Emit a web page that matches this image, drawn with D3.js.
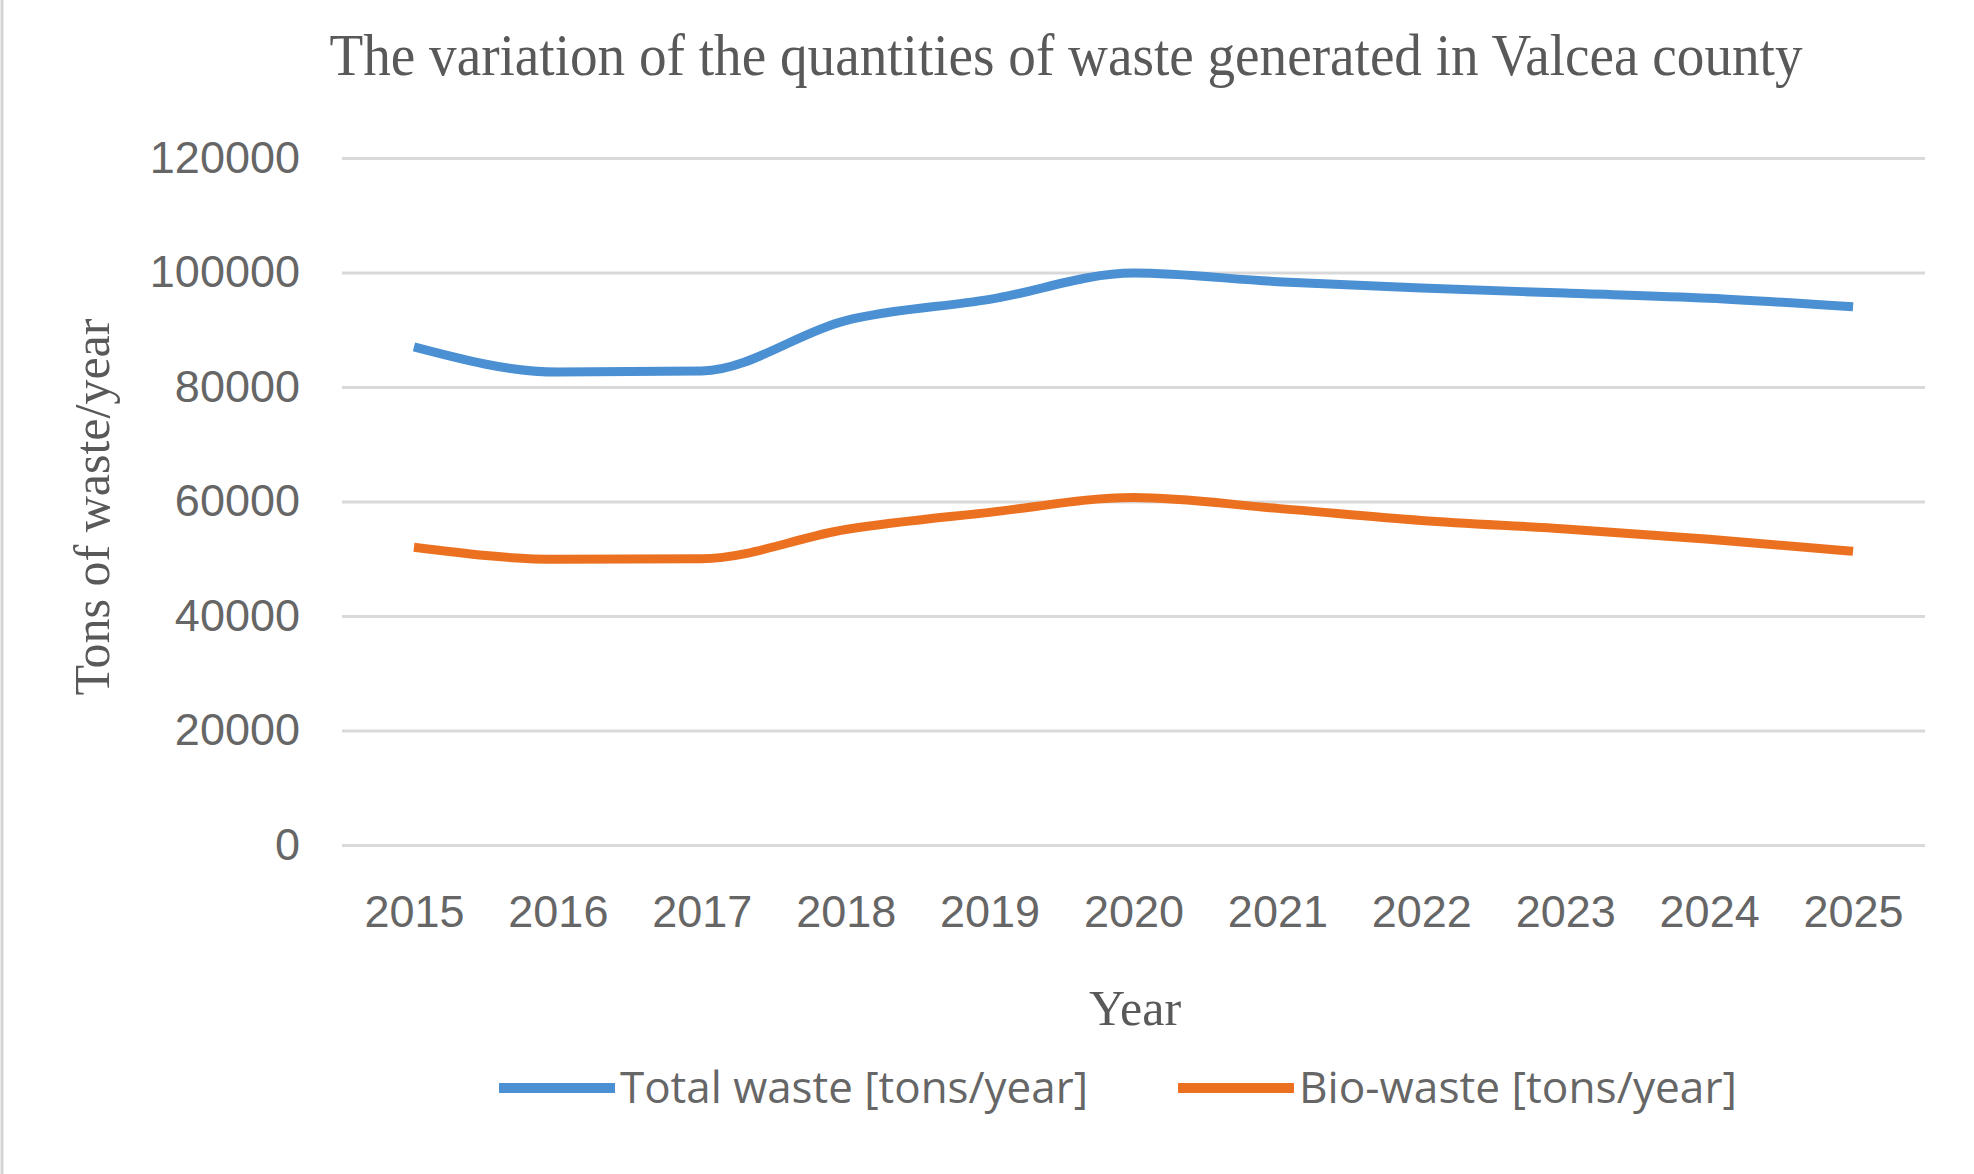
<!DOCTYPE html>
<html>
<head>
<meta charset="utf-8">
<script src="https://cdn.jsdelivr.net/npm/d3@7"></script>
<style>
  body { margin: 0; background: #fff; }
  svg { display: block; }
</style>
</head>
<body>
<svg id="chart" width="1974" height="1174"></svg>
<script>
// values
let years = ["2015", "2016", "2017", "2018", "2019", "2020", "2021", "2022", "2023", "2024", "2025"];
let totalWaste = [87000, 82600, 82800, 91600, 95300, 99900, 98400, 97300, 96400, 95500, 94000];
let bioWaste = [52000, 49900, 50000, 55100, 58100, 60700, 58800, 56700, 55200, 53400, 51300];
let yTicks = [0, 20000, 40000, 60000, 80000, 100000, 120000];
let seriesNames = ["Total waste [tons/year]", "Bio-waste [tons/year]"];
let seriesColors = ["#4a90d2", "#eb7120"];

function build() {
  const svg = d3.select("#chart");
  let margin = ({ top: 158, right: 49, bottom: 329, left: 342 });
  let width = +svg.attr("width");
  let height = +svg.attr("height");

  svg.append("rect").attr("width", width).attr("height", height).attr("fill", "#fff");
  // thin frame on the left edge
  svg.append("line")
    .attr("x1", 2).attr("x2", 2).attr("y1", 0).attr("y2", height)
    .attr("stroke", "#d4d4d4").attr("stroke-width", 3);

  let x = d3.scalePoint()
    .domain(years)
    .range([margin.left, width - margin.right])
    .padding(0.5);

  let y = d3.scaleLinear()
    .domain([0, 120000])
    .range([height - margin.bottom, margin.top]);

  let yAxis = g => g
    .attr("transform", `translate(${margin.left},0)`)
    .call(d3.axisLeft(y).tickValues(yTicks).tickFormat(d3.format("d"))
      .tickSize(-(width - margin.left - margin.right)).tickPadding(42))
    .call(g => g.select(".domain").remove())
    .call(g => g.selectAll(".tick line").attr("stroke", "#d9d9d9").attr("stroke-width", 3))
    .call(g => g.selectAll(".tick text")
      .attr("fill", "#666")
      .attr("font-family", "'Liberation Sans', Arial, sans-serif")
      .attr("font-size", 45));

  let xAxis = g => g
    .attr("transform", `translate(0,${height - margin.bottom})`)
    .call(d3.axisBottom(x).tickSize(0).tickPadding(50))
    .call(g => g.select(".domain").remove())
    .call(g => g.selectAll(".tick text")
      .attr("fill", "#666")
      .attr("font-family", "'Liberation Sans', Arial, sans-serif")
      .attr("font-size", 45));

  svg.append("g").call(yAxis);
  svg.append("g").call(xAxis);

  let line = d3.line()
    .curve(d3.curveMonotoneX)
    .x((d, i) => x(years[i]))
    .y(d => y(d));

  [totalWaste, bioWaste].forEach((s, i) => {
    svg.append("path")
      .datum(s)
      .attr("fill", "none")
      .attr("stroke", seriesColors[i])
      .attr("stroke-width", 9)
      .attr("stroke-linejoin", "round")
      .attr("d", line);
  });

  // title
  svg.append("text")
    .attr("x", 1066).attr("y", 75)
    .attr("text-anchor", "middle")
    .attr("font-family", "'Liberation Serif', 'Times New Roman', serif")
    .attr("font-size", 60)
    .attr("fill", "#595959")
    .attr("textLength", 1473)
    .attr("lengthAdjust", "spacingAndGlyphs")
    .text("The variation of the quantities of waste generated in Valcea county");

  // axis titles
  svg.append("text")
    .attr("transform", "translate(109,507) rotate(-90)")
    .attr("text-anchor", "middle")
    .attr("font-family", "'Liberation Serif', 'Times New Roman', serif")
    .attr("font-size", 50)
    .attr("fill", "#595959")
    .text("Tons of waste/year");

  svg.append("text")
    .attr("x", 1135).attr("y", 1025)
    .attr("text-anchor", "middle")
    .attr("font-family", "'Liberation Serif', 'Times New Roman', serif")
    .attr("font-size", 50)
    .attr("fill", "#595959")
    .text("Year");

  // legend
  let legendX = [499, 1178];
  let legendTextW = [468, 438];
  seriesNames.forEach((name, i) => {
    let lg = svg.append("g").attr("transform", `translate(${legendX[i]},1088)`);
    lg.append("line")
      .attr("x1", 0).attr("x2", 116)
      .attr("stroke", seriesColors[i]).attr("stroke-width", 10);
    lg.append("text")
      .attr("x", 121).attr("y", 0)
      .attr("dy", "0.35em")
      .attr("font-family", "'Open Sans', sans-serif")
      .attr("font-size", 44)
      .attr("fill", "#666")
      .attr("textLength", legendTextW[i])
      .attr("lengthAdjust", "spacingAndGlyphs")
      .text(name);
  });
}

build();
</script>
</body>
</html>
